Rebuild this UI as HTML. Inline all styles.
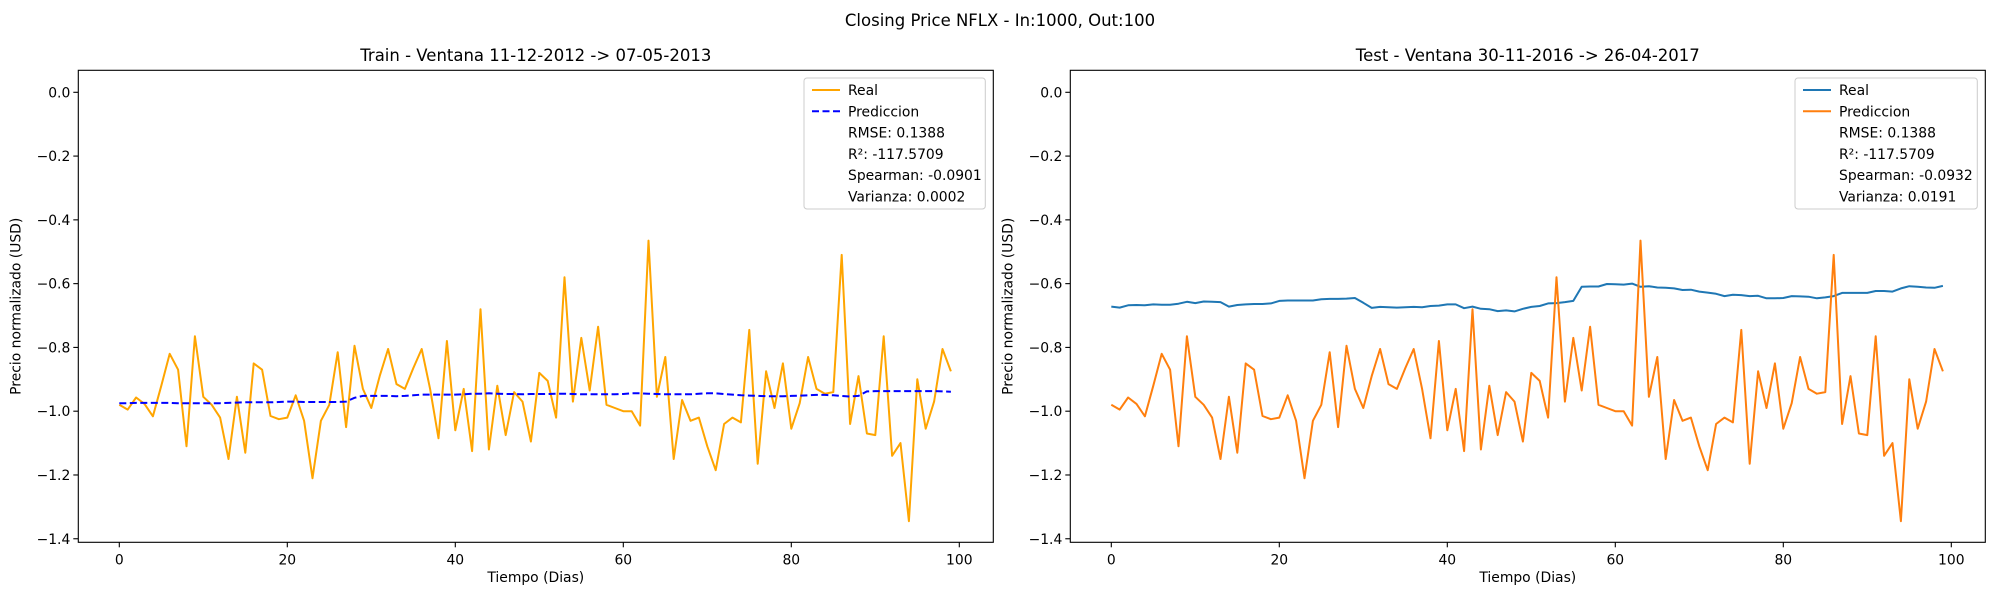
<!DOCTYPE html>
<html><head><meta charset="utf-8"><style>
body{margin:0;background:#fff}
svg{display:block;font-family:"DejaVu Sans","Liberation Sans",sans-serif}
</style></head><body>
<svg id="fig" width="2000" height="600" viewBox="0 0 2000 600">
<text x="1000" y="26" font-size="16.5" text-anchor="middle">Closing Price NFLX - In:1000, Out:100</text>
</svg>
<script>
const xTicks=[0,20,40,60,80,100];
const yTicks=[0,-0.2,-0.4,-0.6,-0.8,-1.0,-1.2,-1.4];
const yTickLabels=["0.0","−0.2","−0.4","−0.6","−0.8","−1.0","−1.2","−1.4"];
const seriesA=[-0.98,-0.995,-0.957,-0.977,-1.016,-0.92,-0.82,-0.87,-1.11,-0.765,-0.955,-0.98,-1.02,-1.15,-0.955,-1.13,-0.85,-0.87,-1.015,-1.025,-1.02,-0.95,-1.03,-1.21,-1.03,-0.98,-0.815,-1.05,-0.795,-0.93,-0.99,-0.89,-0.805,-0.915,-0.93,-0.865,-0.805,-0.93,-1.085,-0.78,-1.06,-0.93,-1.125,-0.68,-1.12,-0.92,-1.075,-0.94,-0.97,-1.095,-0.88,-0.905,-1.02,-0.58,-0.97,-0.77,-0.935,-0.735,-0.98,-0.99,-1.0,-1.0,-1.045,-0.465,-0.955,-0.83,-1.15,-0.965,-1.03,-1.02,-1.11,-1.185,-1.04,-1.02,-1.035,-0.745,-1.165,-0.875,-0.99,-0.85,-1.055,-0.975,-0.83,-0.93,-0.945,-0.94,-0.51,-1.04,-0.89,-1.07,-1.075,-0.765,-1.14,-1.1,-1.345,-0.9,-1.055,-0.97,-0.805,-0.875];
const trainPred=[-0.975,-0.975,-0.974,-0.974,-0.974,-0.974,-0.974,-0.975,-0.975,-0.975,-0.975,-0.975,-0.975,-0.974,-0.973,-0.972,-0.972,-0.972,-0.972,-0.971,-0.970,-0.970,-0.971,-0.971,-0.971,-0.971,-0.971,-0.970,-0.958,-0.952,-0.952,-0.952,-0.952,-0.953,-0.952,-0.950,-0.948,-0.948,-0.948,-0.948,-0.948,-0.947,-0.945,-0.945,-0.944,-0.945,-0.946,-0.946,-0.947,-0.946,-0.946,-0.946,-0.945,-0.945,-0.946,-0.947,-0.947,-0.947,-0.947,-0.947,-0.946,-0.944,-0.944,-0.945,-0.946,-0.947,-0.947,-0.947,-0.947,-0.945,-0.944,-0.944,-0.946,-0.948,-0.950,-0.951,-0.952,-0.953,-0.953,-0.953,-0.952,-0.951,-0.950,-0.949,-0.949,-0.950,-0.952,-0.954,-0.952,-0.938,-0.937,-0.937,-0.937,-0.937,-0.937,-0.937,-0.937,-0.937,-0.938,-0.939];
const testReal=[-0.672,-0.675,-0.668,-0.667,-0.668,-0.665,-0.666,-0.666,-0.663,-0.657,-0.661,-0.656,-0.657,-0.658,-0.672,-0.667,-0.665,-0.664,-0.664,-0.662,-0.654,-0.653,-0.653,-0.653,-0.653,-0.649,-0.648,-0.648,-0.647,-0.645,-0.66,-0.676,-0.673,-0.674,-0.675,-0.674,-0.673,-0.674,-0.670,-0.669,-0.665,-0.665,-0.677,-0.672,-0.679,-0.680,-0.686,-0.684,-0.687,-0.679,-0.673,-0.670,-0.662,-0.661,-0.658,-0.654,-0.61,-0.609,-0.609,-0.601,-0.602,-0.603,-0.600,-0.610,-0.608,-0.612,-0.613,-0.615,-0.620,-0.619,-0.625,-0.628,-0.632,-0.639,-0.635,-0.636,-0.639,-0.638,-0.646,-0.646,-0.645,-0.639,-0.640,-0.641,-0.646,-0.643,-0.639,-0.629,-0.629,-0.629,-0.629,-0.623,-0.623,-0.625,-0.615,-0.608,-0.610,-0.612,-0.613,-0.607];

const NS="http://www.w3.org/2000/svg";
const svg=document.getElementById('fig');
function mk(tag,attrs,parent){const e=document.createElementNS(NS,tag);for(const k in attrs)e.setAttribute(k,attrs[k]);(parent||svg).appendChild(e);return e;}

function panel(p){
  const L=p.left,R=p.left+915,T=70.3,B=542.3;
  const x0=L+41;const sx=v=>x0+v*8.4;const sy=v=>92.3-v*318.9;
  const g=mk('g',{});
  
  
  const t=mk('text',{x:(L+R)/2,y:61,'font-size':16.5,'text-anchor':'middle'},g);t.textContent=p.title;
  
  
  xTicks.forEach(v=>{
    mk('line',{x1:sx(v),x2:sx(v),y1:B,y2:B+5,stroke:'#000','stroke-width':1.1},g);
    const tl=mk('text',{x:sx(v),y:B+22,'font-size':13.9,'text-anchor':'middle'},g);tl.textContent=v;
    
    
  });
  yTicks.forEach((v,i)=>{
    mk('line',{x1:L-5,x2:L,y1:sy(v),y2:sy(v),stroke:'#000','stroke-width':1.1},g);
    const tl=mk('text',{x:L-8,y:sy(v)+5,'font-size':13.9,'text-anchor':'end'},g);tl.textContent=yTickLabels[i];
    
    
  });
  const xl=mk('text',{x:(L+R)/2,y:582,'font-size':13.9,'text-anchor':'middle'},g);xl.textContent='Tiempo (Dias)';
  
  
  const yl=mk('text',{x:0,y:0,'font-size':13.9,'text-anchor':'middle',transform:`translate(${L-58},${(T+B)/2}) rotate(-90)`},g);yl.textContent='Precio normalizado (USD)';
  
  
  p.series.forEach(s=>{
    const pts=s.data.map((v,i)=>sx(i).toFixed(1)+','+sy(v).toFixed(1)).join(' ');
    const pl=mk('polyline',{points:pts,fill:'none',stroke:s.color,'stroke-width':2,'stroke-dasharray':s.dash||'none','stroke-linejoin':'round'},g);
    
    
  });
  mk('rect',{x:L,y:T,width:R-L,height:B-T,fill:'none',stroke:'#000','stroke-width':1.1},g);
  // legend
  const lx=p.legX,lw=R-8-lx;
  const lg=mk('g',{},g);
  
  
  mk('rect',{x:lx,y:78,width:lw,height:131,rx:3,fill:'#fff','fill-opacity':0.8,stroke:'#ccc'},lg);
  const rows=[p.series[0].label,p.series[1].label].concat(p.stats);
  rows.forEach((r,i)=>{
    const y=90+i*21.3;
    if(i<2){const s=p.series.find(q=>q.label===r);
      mk('line',{x1:lx+8,x2:lx+36,y1:y,y2:y,stroke:s.color,'stroke-width':2,'stroke-dasharray':s.dash||'none'},lg);}
    const tt=mk('text',{x:lx+44,y:y+5,'font-size':13.9},lg);tt.textContent=r;
    
    
  });
}
panel({left:78.3,name:'train-panel',title:'Train - Ventana 11-12-2012 -> 07-05-2013',legX:804,
  series:[{data:seriesA,color:'#ffa500',label:'Real',name:'train-real-line'},{data:trainPred,color:'#0000ff',dash:'7,3.5',label:'Prediccion',name:'train-prediction-line'}],
  stats:['RMSE: 0.1388','R²: -117.5709','Spearman: -0.0901','Varianza: 0.0002']});
panel({left:1070.3,name:'test-panel',title:'Test - Ventana 30-11-2016 -> 26-04-2017',legX:1795,
  series:[{data:testReal,color:'#1f77b4',label:'Real',name:'test-real-line'},{data:seriesA,color:'#ff7f0e',label:'Prediccion',name:'test-prediction-line'}],
  stats:['RMSE: 0.1388','R²: -117.5709','Spearman: -0.0932','Varianza: 0.0191']});
</script>
</body></html>
